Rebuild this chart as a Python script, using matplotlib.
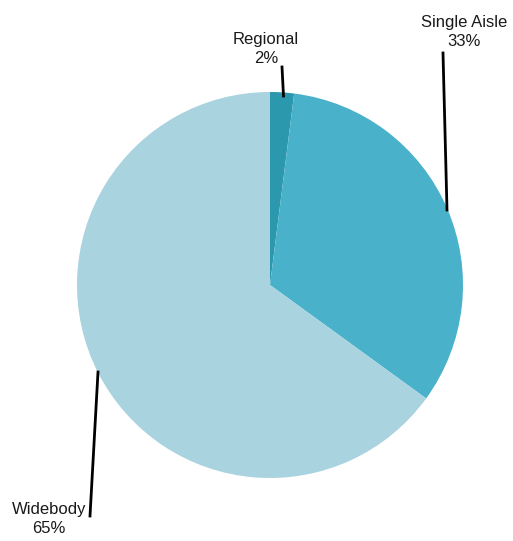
import matplotlib
matplotlib.use("Agg")
import matplotlib.pyplot as plt

categories = ["Regional", "Single Aisle", "Widebody"]
shares = [2, 33, 65]
colors = ["#2c98ad", "#4ab1ca", "#a9d3df"]

W, H = 513, 541
fig = plt.figure(figsize=(W / 100, H / 100), dpi=100)
ax = fig.add_axes([0, 0, 1, 1])

def py(y):
    return H - y

ax.pie(shares, colors=colors, startangle=90, counterclock=False,
       center=(270, py(285)), radius=193, frame=True,
       wedgeprops=dict(linewidth=0))
ax.set_xlim(0, W)
ax.set_ylim(0, H)
ax.axis("off")

font = dict(family=["Liberation Sans Narrow", "Liberation Sans", "DejaVu Sans"],
            fontsize=12, color="#1a1a1a", linespacing=1.3)

labels = [f"{c}\n{v}%" for c, v in zip(categories, shares)]

ax.text(266, py(49), labels[0], ha="center", va="center", **font)
ax.plot([282, 283.5], [py(67), py(96)], color="black", lw=2)

ax.text(464, py(32), labels[1], ha="center", va="center", **font)
ax.plot([443, 447], [py(53), py(210)], color="black", lw=2)

ax.text(49, py(519), labels[2], ha="center", va="center", **font)
ax.plot([98, 90], [py(372), py(516)], color="black", lw=2)

fig.savefig("out.png", dpi=100, facecolor="white")
